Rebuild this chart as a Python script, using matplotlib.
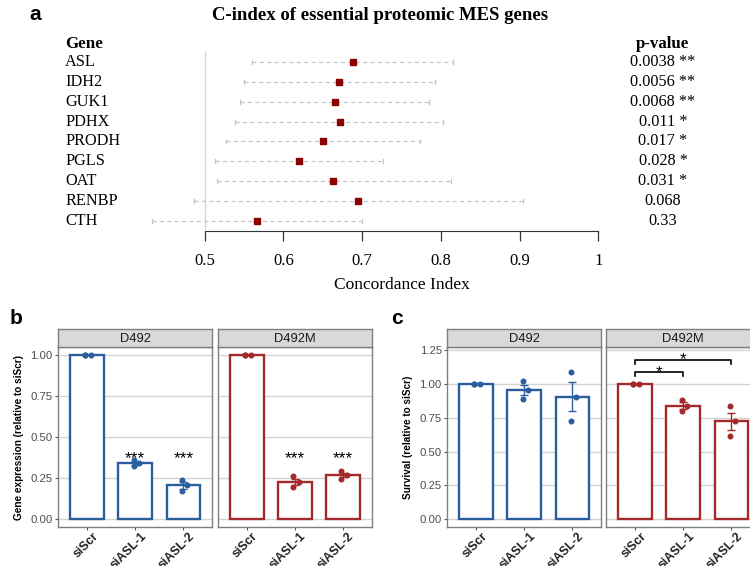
# Forest plot of C-index for MES genes plus knockdown bar charts (panels a-c)

import matplotlib
matplotlib.use('Agg')
import matplotlib.pyplot as plt
import matplotlib.transforms as mtransforms
import numpy as np
import pandas as pd

# ---- panel a data ----
genes = ['ASL', 'IDH2', 'GUK1', 'PDHX', 'PRODH', 'PGLS', 'OAT', 'RENBP', 'CTH']
cindex = [0.688, 0.671, 0.665, 0.672, 0.650, 0.620, 0.663, 0.695, 0.566]
ci_low = [0.560, 0.550, 0.545, 0.539, 0.527, 0.513, 0.515, 0.486, 0.433]
ci_high = [0.816, 0.793, 0.785, 0.803, 0.774, 0.727, 0.813, 0.905, 0.700]
pvals = ['0.0038 **', '0.0056 **', '0.0068 **', '0.011 *', '0.017 *', '0.028 *', '0.031 *', '0.068', '0.33']
c_ticks = [0.5, 0.6, 0.7, 0.8, 0.9, 1.0]
c_ticklabels = ['0.5', '0.6', '0.7', '0.8', '0.9', '1']

# ---- panels b, c data (three replicates per condition) ----
conditions = ['siScr', 'siASL-1', 'siASL-2']
cell_lines = ['D492', 'D492M']
expr_reps = {
    ('D492', 'siScr'): [1.0, 1.0, 1.0],
    ('D492', 'siASL-1'): [0.359, 0.343, 0.322],
    ('D492', 'siASL-2'): [0.239, 0.206, 0.173],
    ('D492M', 'siScr'): [1.0, 1.0, 1.0],
    ('D492M', 'siASL-1'): [0.261, 0.227, 0.196],
    ('D492M', 'siASL-2'): [0.296, 0.269, 0.245],
}
surv_reps = {
    ('D492', 'siScr'): [1.0, 1.0, 1.0],
    ('D492', 'siASL-1'): [1.022, 0.956, 0.890],
    ('D492', 'siASL-2'): [1.088, 0.904, 0.725],
    ('D492M', 'siScr'): [1.0, 1.0, 1.0],
    ('D492M', 'siASL-1'): [0.882, 0.838, 0.799],
    ('D492M', 'siASL-2'): [0.833, 0.723, 0.613],
}
expr_stars = {('D492', 'siASL-1'): '***', ('D492', 'siASL-2'): '***',
              ('D492M', 'siASL-1'): '***', ('D492M', 'siASL-2'): '***'}
# (cell line, from, to, bracket height, label)
surv_brackets = [('D492M', 'siScr', 'siASL-1', 1.086, '*'),
                 ('D492M', 'siScr', 'siASL-2', 1.179, '*')]

line_colors = {'D492': '#2a5e9e', 'D492M': '#a3292b'}
jitter = [-0.035, 0.08, -0.035]

W, H = 750, 566
SERIF = 'Liberation Serif'
SANS = 'Liberation Sans'


def px_box(x0, y0, x1, y1):
    """figure-fraction rect from pixel box (top-left origin)"""
    return [x0 / W, 1 - y1 / H, (x1 - x0) / W, (y1 - y0) / H]


def summarise(reps):
    rows = []
    for (line, cond), vals in reps.items():
        v = np.asarray(vals)
        rows.append({'line': line, 'cond': cond, 'mean': v.mean(),
                     'sem': v.std(ddof=1) / np.sqrt(len(v)), 'vals': v})
    return pd.DataFrame(rows)


fig = plt.figure(figsize=(W / 100, H / 100), dpi=100)

# ================= panel a =================
ax = fig.add_axes(px_box(0, 40, W, 230.5))
x_left = 0.5 - 204.7 / 787
x_right = 0.5 + (W - 204.7) / 787
ax.set_xlim(x_left, x_right)
ax.set_ylim(0.5, 10.13)
ypos = np.arange(len(genes))[::-1] + 1

ax.vlines(0.5, 0.6, 9.55, color='#d6d6d6', lw=1.0, zorder=1)
for y, lo, hi in zip(ypos, ci_low, ci_high):
    ax.plot([lo, hi], [y, y], color='#c4c4c4', lw=0.9, ls=(0, (3.3, 2.6)), zorder=2)
    ax.plot([lo, lo], [y - 0.1, y + 0.1], color='#c4c4c4', lw=0.9, zorder=2)
    ax.plot([hi, hi], [y - 0.1, y + 0.1], color='#c4c4c4', lw=0.9, zorder=2)
ax.plot(cindex, ypos, ls='none', marker='s', ms=4.4, color='#8b0000', zorder=3)

for side in ['top', 'right', 'left']:
    ax.spines[side].set_visible(False)
ax.spines['bottom'].set_bounds(0.5, 1.0)
ax.spines['bottom'].set_color('#333333')
ax.set_yticks([])
ax.set_xticks(c_ticks)
ax.set_xticklabels(c_ticklabels, family=SERIF, fontsize=12)
ax.tick_params(axis='x', length=7, width=0.9, color='#333333', pad=9)
ax.set_xlabel('Concordance Index', family=SERIF, fontsize=12.5, labelpad=2)
ax.xaxis.set_label_coords((0.75 - x_left) / (x_right - x_left), -0.245)

trans = mtransforms.blended_transform_factory(fig.transFigure, ax.transData)
for y, g, p in zip(ypos, genes, pvals):
    ax.text(65 / W, y, g, transform=trans, family=SERIF, fontsize=11.7, va='center', ha='left')
    ax.text(663 / W, y, p, transform=trans, family=SERIF, fontsize=11.7, va='center', ha='center')
ax.text(65 / W, 9.93, 'Gene', transform=trans, family=SERIF, fontsize=12.2, weight='bold', va='center')
ax.text(663 / W, 9.93, 'p-value', transform=trans, family=SERIF, fontsize=12.2, weight='bold',
        va='center', ha='center')
fig.text(380 / W, 1 - 15 / H, 'C-index of essential proteomic MES genes', family=SERIF,
         fontsize=13.5, weight='bold', ha='center', va='center')
fig.text(35 / W, 1 - 15 / H, 'a', family=SANS, fontsize=15, weight='bold', ha='center', va='center')

# nudge for rotated category labels (ggplot-style justification)
label_shift = mtransforms.ScaledTranslation(5 / 100, 3 / 100, fig.dpi_scale_trans)


# ================= panels b, c =================
def bar_panel(x_starts, reps, ylim, yticks, ylabel, letter, letter_x, stars=None, brackets=None):
    df = summarise(reps)
    axes = []
    for i, line in enumerate(cell_lines):
        x0 = x_starts[i]
        pax = fig.add_axes(px_box(x0, 347.3, x0 + 154, 527.3))
        sax = fig.add_axes(px_box(x0, 329.3, x0 + 154, 347.3))
        sub = df[df.line == line].set_index('cond').loc[conditions]
        xs = np.arange(len(conditions)) + 1
        col = line_colors[line]
        for yt in yticks:
            pax.axhline(yt, color='#d4d4d4', lw=1.0, zorder=0)
        pax.bar(xs, sub['mean'], width=0.7, facecolor='white', edgecolor=col, lw=1.7, zorder=2)
        pax.errorbar(xs, sub['mean'], yerr=sub['sem'], fmt='none', ecolor=col, elinewidth=1.0,
                     capsize=3, capthick=1.0, zorder=3)
        for x, vals in zip(xs, sub['vals']):
            order = np.argsort(vals)[::-1]
            offs = np.empty(len(vals))
            offs[order] = jitter
            pax.plot(x + offs, vals, ls='none', marker='o', ms=3.3, color=col, zorder=4)
        if stars:
            for (ln, cond), s in stars.items():
                if ln == line:
                    pax.text(conditions.index(cond) + 1, 0.345, s, ha='center', va='baseline',
                             family=SANS, fontsize=12.5, zorder=5)
        if brackets:
            for ln, c1, c2, h, s in brackets:
                if ln != line:
                    continue
                xa, xb = conditions.index(c1) + 1, conditions.index(c2) + 1
                drop = 0.03
                pax.plot([xa, xa, xb, xb], [h - drop, h, h, h - drop], color='black', lw=1.2, zorder=5)
                pax.text((xa + xb) / 2, h - 0.035, s, ha='center', va='baseline', family=SANS,
                         fontsize=12.5, zorder=5)
        pax.set_xlim(0.4, 3.6)
        pax.set_ylim(*ylim)
        pax.set_xticks(xs)
        pax.tick_params(axis='x', length=2.5, color='#555555', pad=1.5)
        pax.set_xticklabels(conditions, rotation=45, ha='right', va='top', rotation_mode='anchor',
                            family=SANS, fontsize=8.8, weight='bold', color='#222222')
        if i == 0:
            pax.set_yticks(yticks)
            pax.set_yticklabels([f'{t:.2f}' for t in yticks], family=SANS, fontsize=8.2,
                                color='#4d4d4d')
            pax.tick_params(axis='y', length=2.5, color='#555555', pad=1.5)
            pax.set_ylabel(ylabel, family=SANS, fontsize=7.2, weight='bold', labelpad=5)
        else:
            pax.set_yticks([])
        for lab in pax.get_xticklabels():
            lab.set_transform(lab.get_transform() + label_shift)
        for sp in pax.spines.values():
            sp.set_color('#7f7f7f')
            sp.set_linewidth(1.0)

        sax.set_facecolor('#d9d9d9')
        sax.set_xticks([])
        sax.set_yticks([])
        for sp in sax.spines.values():
            sp.set_color('#7f7f7f')
            sp.set_linewidth(1.0)
        sax.text(0.5, 0.45, line, ha='center', va='center', family=SANS, fontsize=9.3,
                 color='#1a1a1a', transform=sax.transAxes)
        axes.append(pax)
    fig.text(letter_x / W, 1 - 318 / H, letter, family=SANS, fontsize=15, weight='bold',
             ha='center', va='center')
    return axes


bar_panel([58.3, 217.8], expr_reps, (-0.05, 1.05), [0.0, 0.25, 0.5, 0.75, 1.0],
          'Gene expression (relative to siScr)', 'b', 16, stars=expr_stars)
bar_panel([447.3, 606.3], surv_reps, (-0.059, 1.27), [0.0, 0.25, 0.5, 0.75, 1.0, 1.25],
          'Survival (relative to siScr)', 'c', 397, brackets=surv_brackets)

fig.savefig('out.png', dpi=100)
